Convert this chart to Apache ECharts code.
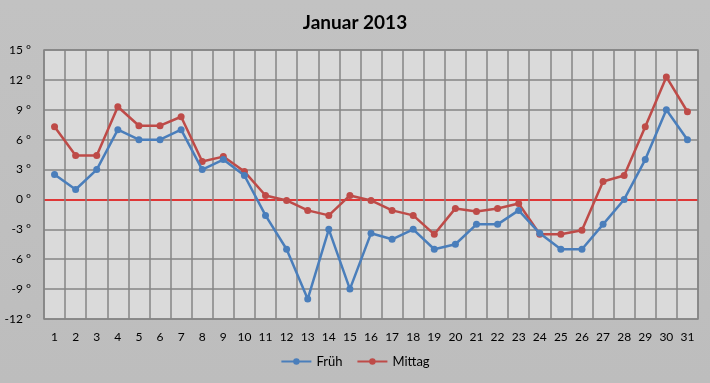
<!DOCTYPE html>
<html>
<head>
<meta charset="utf-8">
<script src="https://cdn.jsdelivr.net/npm/echarts@6/dist/echarts.min.js"></script>
<style>html,body{margin:0;padding:0;background:#c0c0c0;}#c{width:710px;height:383px;}</style>
</head>
<body>
<div id="c"></div>
<script>
const days = ['1','2','3','4','5','6','7','8','9','10','11','12','13','14','15','16','17','18','19','20','21','22','23','24','25','26','27','28','29','30','31'];
const frueh = [2.5,1,3,7,6,6,7,3,4,2.4,-1.6,-5,-10,-3,-9,-3.4,-4,-3,-5,-4.5,-2.5,-2.5,-1.1,-3.4,-5,-5,-2.5,0,4,9,6];
const mittag = [7.3,4.4,4.4,9.3,7.4,7.4,8.3,3.8,4.3,2.8,0.4,-0.1,-1.1,-1.6,0.4,-0.1,-1.1,-1.6,-3.5,-0.9,-1.2,-0.9,-0.4,-3.5,-3.5,-3.1,1.8,2.4,7.3,12.3,8.8];
const yMin = -12, yMax = 15, yStep = 3;

const gridCol = '#858585';
const splitColors = [];
for (let v = yMin; v <= yMax; v += yStep) splitColors.push(v === 0 ? '#e00000' : gridCol);

const chart = echarts.init(document.getElementById('c'));
chart.setOption({
  backgroundColor: new echarts.graphic.LinearGradient(0,0,0,1,[{offset:0,color:'#c2c2c2'},{offset:1,color:'#bdbdbd'}]),
  animation: false,
  textStyle: {fontFamily: 'Lato'},
  title: {
    text: 'Januar 2013', left: 'center', top: 8,
    textStyle: {fontFamily: 'Lato', fontWeight: 'bold', fontSize: 19, color: '#000'}
  },
  legend: {
    bottom: 10, left: 'center', itemWidth: 30, itemHeight: 8, itemGap: 14,
    textStyle: {fontFamily: 'Lato', fontSize: 13, color: '#000'},
    data: ['Früh','Mittag']
  },
  grid: {
    left: 44, right: 12, top: 50, bottom: 64,
    show: true, backgroundColor: '#dadada', borderColor: gridCol, borderWidth: 1.5
  },
  xAxis: {
    type: 'category', data: days, boundaryGap: true,
    axisLine: {show: false}, axisTick: {show: false},
    axisLabel: {color: '#000', fontSize: 12, margin: 12, interval: 0},
    splitLine: {show: true, interval: 0, lineStyle: {color: gridCol, width: 1.5}}
  },
  yAxis: {
    type: 'value', min: yMin, max: yMax, interval: yStep,
    axisLine: {show: false}, axisTick: {show: false},
    axisLabel: {color: '#000', fontSize: 12, margin: 13, formatter: '{value} °'},
    splitLine: {lineStyle: {color: splitColors, width: 1.5}}
  },
  series: [
    {
      name: 'Früh', type: 'line', data: frueh,
      symbol: 'circle', symbolSize: 7,
      lineStyle: {color: '#4a7ebb', width: 2.5},
      itemStyle: {color: '#4a7ebb'},
      z: 3
    },
    {
      name: 'Mittag', type: 'line', data: mittag,
      symbol: 'circle', symbolSize: 7,
      lineStyle: {color: '#be4b48', width: 2.5},
      itemStyle: {color: '#be4b48'},
      z: 2
    }
  ]
});
</script>
</body>
</html>
